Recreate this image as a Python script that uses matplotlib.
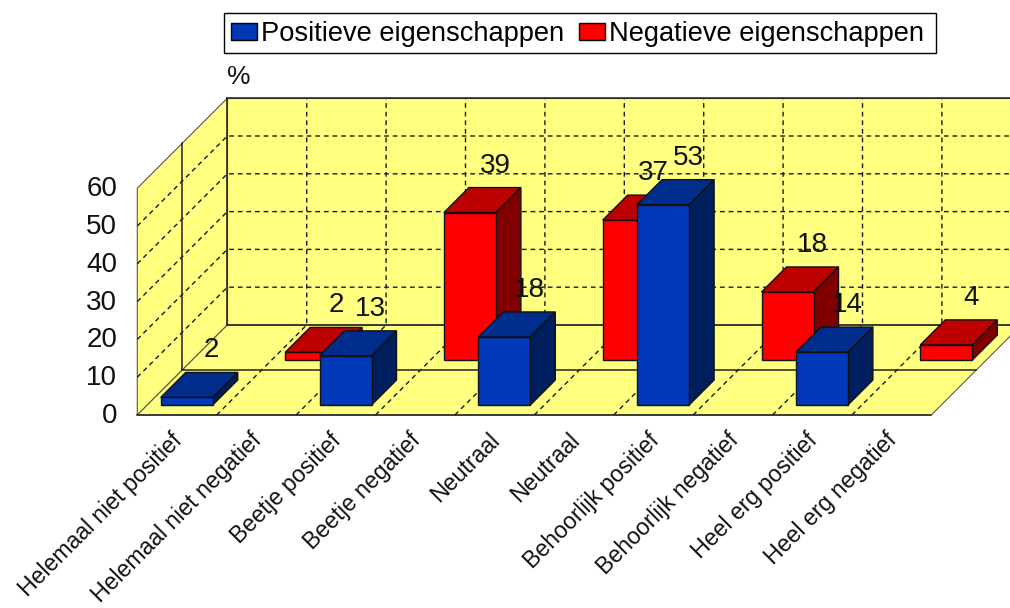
"""Staafdiagram met schijn-3D: positieve en negatieve eigenschappen per categorie."""
import matplotlib.pyplot as plt
from matplotlib.patches import Patch, Polygon, Rectangle

plt.rcParams["font.family"] = ["Liberation Sans", "DejaVu Sans"]

categories = [
    "Helemaal niet positief", "Helemaal niet negatief",
    "Beetje positief", "Beetje negatief",
    "Neutraal", "Neutraal",
    "Behoorlijk positief", "Behoorlijk negatief",
    "Heel erg positief", "Heel erg negatief",
]
pos_slots = [0, 2, 4, 6, 8]
pos_values = [2, 13, 18, 53, 14]
neg_slots = [1, 3, 5, 7, 9]
neg_values = [2, 39, 37, 18, 4]
y_ticks = [0, 10, 20, 30, 40, 50, 60]

# oblique projection, everything in screen pixels
X0, Y0 = 137.3, 415.0
CAT_W = 79.4
UNIT = 3.78
DEPTH = 90.0
BAR_GAP = 13.4
BAR_W = 52.0
BAR_D = 25.0

YELLOW = "#ffff80"
EDGE = "#222222"
BLUE = ("#0038b8", "#002d8c", "#001f5f")
RED = ("#ff0000", "#bd0000", "#800000")


def proj(cat, depth, val):
    return X0 + cat * CAT_W + depth, Y0 - depth - val * UNIT


def draw_walls(ax):
    n = len(categories)
    top = y_ticks[-1]
    back = [proj(0, DEPTH, 0), proj(n, DEPTH, 0), proj(n, DEPTH, top), proj(0, DEPTH, top)]
    left = [proj(0, 0, 0), proj(0, DEPTH, 0), proj(0, DEPTH, top), proj(0, 0, top)]
    floor = [proj(0, 0, 0), proj(n, 0, 0), proj(n, DEPTH, 0), proj(0, DEPTH, 0)]
    for pts in (back, left, floor):
        ax.add_patch(Polygon(pts, closed=True, fc=YELLOW, ec="#555555", lw=0.8, zorder=1))

    dash = dict(color="#1a1a1a", lw=1.0, dashes=(3.4, 2.8), zorder=2)
    for v in y_ticks[1:-1]:
        a, b, c = proj(0, 0, v), proj(0, DEPTH, v), proj(n, DEPTH, v)
        ax.plot([a[0], b[0], c[0]], [a[1], b[1], c[1]], **dash)
    for k in range(1, n):
        a, b, c = proj(k, 0, 0), proj(k, DEPTH, 0), proj(k, DEPTH, top)
        ax.plot([a[0], b[0], c[0]], [a[1], b[1], c[1]], **dash)

    solid = dict(color=EDGE, lw=1.1, zorder=3)
    # edges of the back wall, the floor and the middle plane between both rows
    mid = DEPTH / 2
    for p, q in [
        (proj(0, DEPTH, 0), proj(0, DEPTH, top)),
        (proj(0, DEPTH, top), proj(n, DEPTH, top)),
        (proj(0, DEPTH, 0), proj(n, DEPTH, 0)),
        (proj(0, 0, 0), proj(n, 0, 0)),
        (proj(0, mid, 0), proj(0, mid, top)),
        (proj(0, mid, 0), proj(n, mid, 0)),
    ]:
        ax.plot([p[0], q[0]], [p[1], q[1]], **solid)


def draw_bar(ax, slot, depth, val, colors):
    x0 = slot + BAR_GAP / CAT_W
    x1 = x0 + BAR_W / CAT_W
    d1 = depth + BAR_D
    style = dict(closed=True, ec="#111111", lw=1.0, joinstyle="miter", zorder=4)
    ax.add_patch(Polygon([proj(x0, depth, val), proj(x1, depth, val),
                          proj(x1, d1, val), proj(x0, d1, val)], fc=colors[1], **style))
    ax.add_patch(Polygon([proj(x1, depth, 0), proj(x1, d1, 0),
                          proj(x1, d1, val), proj(x1, depth, val)], fc=colors[2], **style))
    ax.add_patch(Polygon([proj(x0, depth, 0), proj(x1, depth, 0),
                          proj(x1, depth, val), proj(x0, depth, val)], fc=colors[0], **style))
    # value label sits above the top face
    lx, ly = proj((x0 + x1) / 2, depth, val)
    ax.text(lx + 25, ly - 47, str(val), ha="center", va="center", fontsize=20, color="#111111", zorder=6)


def main():
    fig = plt.figure(figsize=(10.10, 6.08), dpi=100)
    ax = fig.add_axes([0, 0, 1, 1])
    ax.set_xlim(0, 1010)
    ax.set_ylim(608, 0)
    ax.axis("off")

    draw_walls(ax)

    # back row first, then the front row over it
    for slot, val in zip(neg_slots, neg_values):
        draw_bar(ax, slot, 55.0, val, RED)
    for slot, val in zip(pos_slots, pos_values):
        draw_bar(ax, slot, 10.0, val, BLUE)

    for v in y_ticks:
        x, y = proj(0, 0, v)
        ax.text(x - 20, y + 1, str(v), ha="right", va="center", fontsize=20, color="#111111")

    for k, name in enumerate(categories):
        x, _ = proj(k + 0.5, 0, 0)
        ax.text(x + 2, Y0 + 22, name, rotation=45, rotation_mode="anchor",
                ha="right", va="center", fontsize=16.7, color="#111111")

    ax.text(239, 77, "%", ha="center", va="center", fontsize=19, color="#111111")

    # legend frame is wider than its entries, so it gets its own rectangle
    ax.add_patch(Rectangle((224, 13), 712, 40, fc="white", ec="black", lw=1.0, zorder=5))
    handles = [Patch(fc=BLUE[0], ec="black", lw=1.0, label="Positieve eigenschappen"),
               Patch(fc=RED[0], ec="black", lw=1.0, label="Negatieve eigenschappen")]
    fig.legend(handles=handles, ncol=2, loc="upper left",
               bbox_to_anchor=(231 / 1010, 1 - 21 / 608), borderaxespad=0,
               fontsize=19.6, frameon=False, handlelength=0.95, handleheight=0.62,
               handletextpad=0.17, columnspacing=0.52, borderpad=0)

    fig.savefig("out.png", dpi=100)


if __name__ == "__main__":
    main()
